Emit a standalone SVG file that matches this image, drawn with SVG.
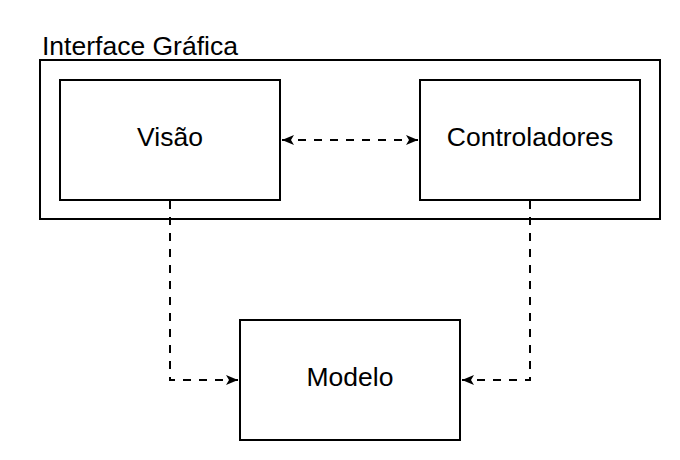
<svg xmlns="http://www.w3.org/2000/svg" width="680" height="460" viewBox="0 0 680 460">
<defs>
<style>
.box{fill:#fff;stroke:#000;stroke-width:2}
.lbl{font-family:"Liberation Sans",Arial,sans-serif;font-size:26.5px;fill:#000}
.c{text-anchor:middle}
.edge{fill:none;stroke:#000;stroke-width:2;stroke-dasharray:8 8}
</style>
<marker id="ah" viewBox="0 0 12 10" refX="12" refY="5" markerWidth="12" markerHeight="10" markerUnits="userSpaceOnUse" orient="auto-start-reverse">
<path d="M0,0 L12,5 L0,10 L3,5 Z" fill="#000"/>
</marker>
</defs>
<g id="interface">
<rect class="box" x="40" y="60" width="620" height="159"/>
<text class="lbl" x="42" y="55">Interface Gráfica</text>
</g>
<g id="visao">
<rect class="box" x="60" y="80" width="220" height="120"/>
<text class="lbl c" x="170" y="146">Visão</text>
</g>
<g id="controladores">
<rect class="box" x="420" y="80" width="220" height="120"/>
<text class="lbl c" x="530" y="146">Controladores</text>
</g>
<g id="modelo">
<rect class="box" x="240" y="320" width="220" height="120"/>
<text class="lbl c" x="350" y="386">Modelo</text>
</g>
<g id="connectors">
<path class="edge" d="M282,140 H418" marker-start="url(#ah)" marker-end="url(#ah)"/>
<path class="edge" d="M170,201 V380 H238" marker-end="url(#ah)"/>
<path class="edge" d="M530,201 V380 H462" marker-end="url(#ah)"/>
</g>
</svg>
